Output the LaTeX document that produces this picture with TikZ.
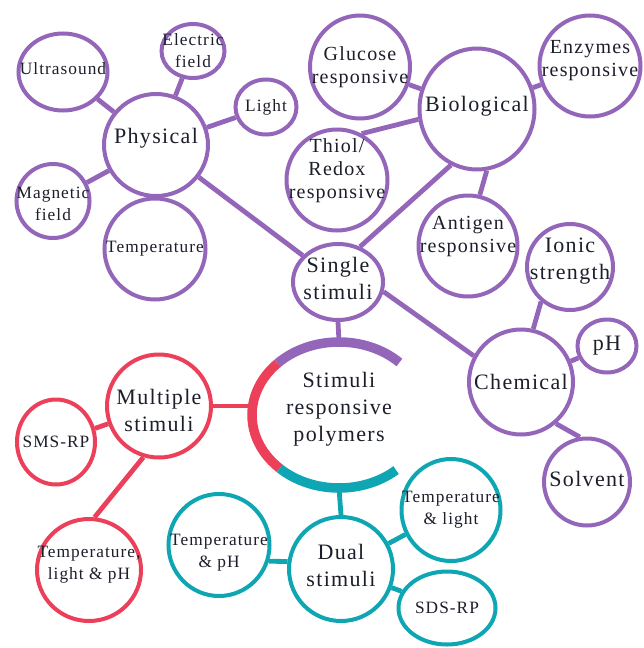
\documentclass[tikz,border=0pt]{standalone}
\usepackage{fontspec}
\setmainfont{Liberation Serif}
\newfontfamily\bubfont[LetterSpace=6]{Liberation Serif}
\usetikzlibrary{shapes.geometric, shadows}

\definecolor{stimpurple}{RGB}{148,102,186}
\definecolor{stimred}{RGB}{236,64,90}
\definecolor{stimteal}{RGB}{14,166,178}
\definecolor{ink}{RGB}{28,30,42}

\begin{document}
\begin{tikzpicture}[x=1pt, y=-1pt,
    bub/.style={ellipse, draw=#1, line width=4, fill=white, inner sep=0pt,
        drop shadow={shadow xshift=1.2pt, shadow yshift=-1.5pt, opacity=0.18}},
    link/.style={draw=#1, line width=4.8},
    big/.style={font=\bubfont\fontsize{22}{27}\selectfont, align=center, text=ink},
    mid/.style={font=\bubfont\fontsize{20}{23}\selectfont, align=center, text=ink},
    small/.style={font=\bubfont\fontsize{17.3}{22}\selectfont, align=center, text=ink}]

    \useasboundingbox (0,0) rectangle (643,648);

    % ==========================================
    % CENTRE: STIMULI RESPONSIVE POLYMERS
    % ==========================================
    \node[ellipse, minimum width=174, minimum height=146, inner sep=0pt,
        label={[big, yshift=6]center:Stimuli\\responsive\\polymers}] (core) at (339,415) {};

    % open ring in three colours (gap on the right)
    \begin{scope}[shift={(core.center)}, y=1pt]
        \draw[stimpurple, line width=9.5] (46:87 and 73) arc[start angle=46, end angle=135, x radius=87, y radius=73];
        \draw[stimred, line width=9.5] (135:87 and 73) arc[start angle=135, end angle=227, x radius=87, y radius=73];
        \draw[stimteal, line width=9.5] (227:87 and 73) arc[start angle=227, end angle=311, x radius=87, y radius=73];
    \end{scope}

    % ==========================================
    % SINGLE STIMULI (PURPLE)
    % ==========================================
    \node[bub=stimpurple, minimum width=90, minimum height=76, label={[big, yshift=4]center:Single\\stimuli}] (single) at (338,282) {};

    % physical group
    \node[bub=stimpurple, minimum width=104, minimum height=102, label={[big, yshift=7]center:Physical}] (phys) at (156,145) {};
    \node[bub=stimpurple, minimum width=89, minimum height=77, label={[small, yshift=3]center:Ultrasound}] (ultra) at (63,72) {};
    \node[bub=stimpurple, minimum width=63, minimum height=54, label={[small]center:Electric\\field}] (elec) at (193,51) {};
    \node[bub=stimpurple, minimum width=61, minimum height=55, label={[small]center:Light}] (light) at (266,107) {};
    \node[bub=stimpurple, minimum width=73, minimum height=74, label={[small, yshift=-3]center:Magnetic\\field}] (magn) at (53,201) {};
    \node[bub=stimpurple, minimum width=101, minimum height=101, label={[small]center:Temperature}] (temp) at (155,249) {};

    % biological group
    \node[bub=stimpurple, minimum width=115, minimum height=121, label={[big, yshift=3]center:Biological}] (bio) at (477,109) {};
    \node[bub=stimpurple, minimum width=100, minimum height=103, label={[mid]center:Glucose\\responsive}] (gluc) at (360,67) {};
    \node[bub=stimpurple, minimum width=101, minimum height=101, label={[mid, yshift=5]center:Enzymes\\responsive}] (enz) at (590,66) {};
    \node[bub=stimpurple, minimum width=101, minimum height=101, label={[mid, yshift=9]center:Thiol/\\Redox\\responsive}] (thiol) at (337,180) {};
    \node[bub=stimpurple, minimum width=99, minimum height=101, label={[mid, yshift=9]center:Antigen\\responsive}] (antigen) at (468,246) {};

    % chemical group
    \node[bub=stimpurple, minimum width=104, minimum height=105, label={[big]center:Chemical}] (chem) at (521,382) {};
    \node[bub=stimpurple, minimum width=86, minimum height=86, label={[big, yshift=6]center:Ionic\\strength}] (ionic) at (570,267) {};
    \node[bub=stimpurple, minimum width=59, minimum height=53, label={[big]center:pH}] (ph) at (607,346) {};
    \node[bub=stimpurple, minimum width=86, minimum height=87, label={[big, yshift=3]center:Solvent}] (solv) at (587,482) {};

    % links
    \draw[link=stimpurple] (ultra) -- (phys);
    \draw[link=stimpurple] (elec) -- (phys);
    \draw[link=stimpurple] (light) -- (phys);
    \draw[link=stimpurple] (magn) -- (phys);
    \draw[link=stimpurple] (phys) -- (single);
    \draw[link=stimpurple] (gluc) -- (bio);
    \draw[link=stimpurple] (enz) -- (bio);
    \draw[link=stimpurple] (thiol.62) -- (bio.190);
    \draw[link=stimpurple] (antigen.77) -- (bio.279);
    \draw[link=stimpurple] (bio.245) -- (single.58);
    \draw[link=stimpurple] (single.-12) -- (chem.151);
    \draw[link=stimpurple] (ionic.230) -- (chem.77);
    \draw[link=stimpurple] (ph) -- (chem);
    \draw[link=stimpurple] (chem.-50) -- (solv.99);
    \draw[link=stimpurple] (single.south) -- (core.north);

    % ==========================================
    % MULTIPLE STIMULI (RED)
    % ==========================================
    \node[bub=stimred, minimum width=104, minimum height=103, label={[big, yshift=-4]center:Multiple\\stimuli}] (multi) at (159,406) {};
    \node[bub=stimred, minimum width=78, minimum height=85, label={[small]center:SMS-RP}] (sms) at (56,442) {};
    \node[bub=stimred, minimum width=104, minimum height=102, label={[small, yshift=5]center:Temperature,\\light \& pH}] (tlp) at (89,570) {};

    \draw[link=stimred] (multi) -- (multi -| core.west);
    \draw[link=stimred] (sms) -- (multi);
    \draw[link=stimred] (multi.253) -- (tlp.84);

    % ==========================================
    % DUAL STIMULI (TEAL)
    % ==========================================
    \node[bub=stimteal, minimum width=104, minimum height=104, label={[big, yshift=4]center:Dual\\stimuli}] (dual) at (341,569) {};
    \node[bub=stimteal, minimum width=101, minimum height=102, label={[small, yshift=-8]center:Temperature\\\& pH}] (tph) at (219,545) {};
    \node[bub=stimteal, minimum width=99, minimum height=102, label={[small]center:Temperature\\\& light}] (tl) at (451,510) {};
    \node[bub=stimteal, minimum width=97, minimum height=73, label={[small]center:SDS-RP}] (sds) at (447,608) {};

    \draw[link=stimteal] (core.south) -- (dual.north);
    \draw[link=stimteal] (tph.-18) -- (dual.172);
    \draw[link=stimteal] (tl) -- (dual);
    \draw[link=stimteal] (sds) -- (dual);

\end{tikzpicture}
\end{document}
